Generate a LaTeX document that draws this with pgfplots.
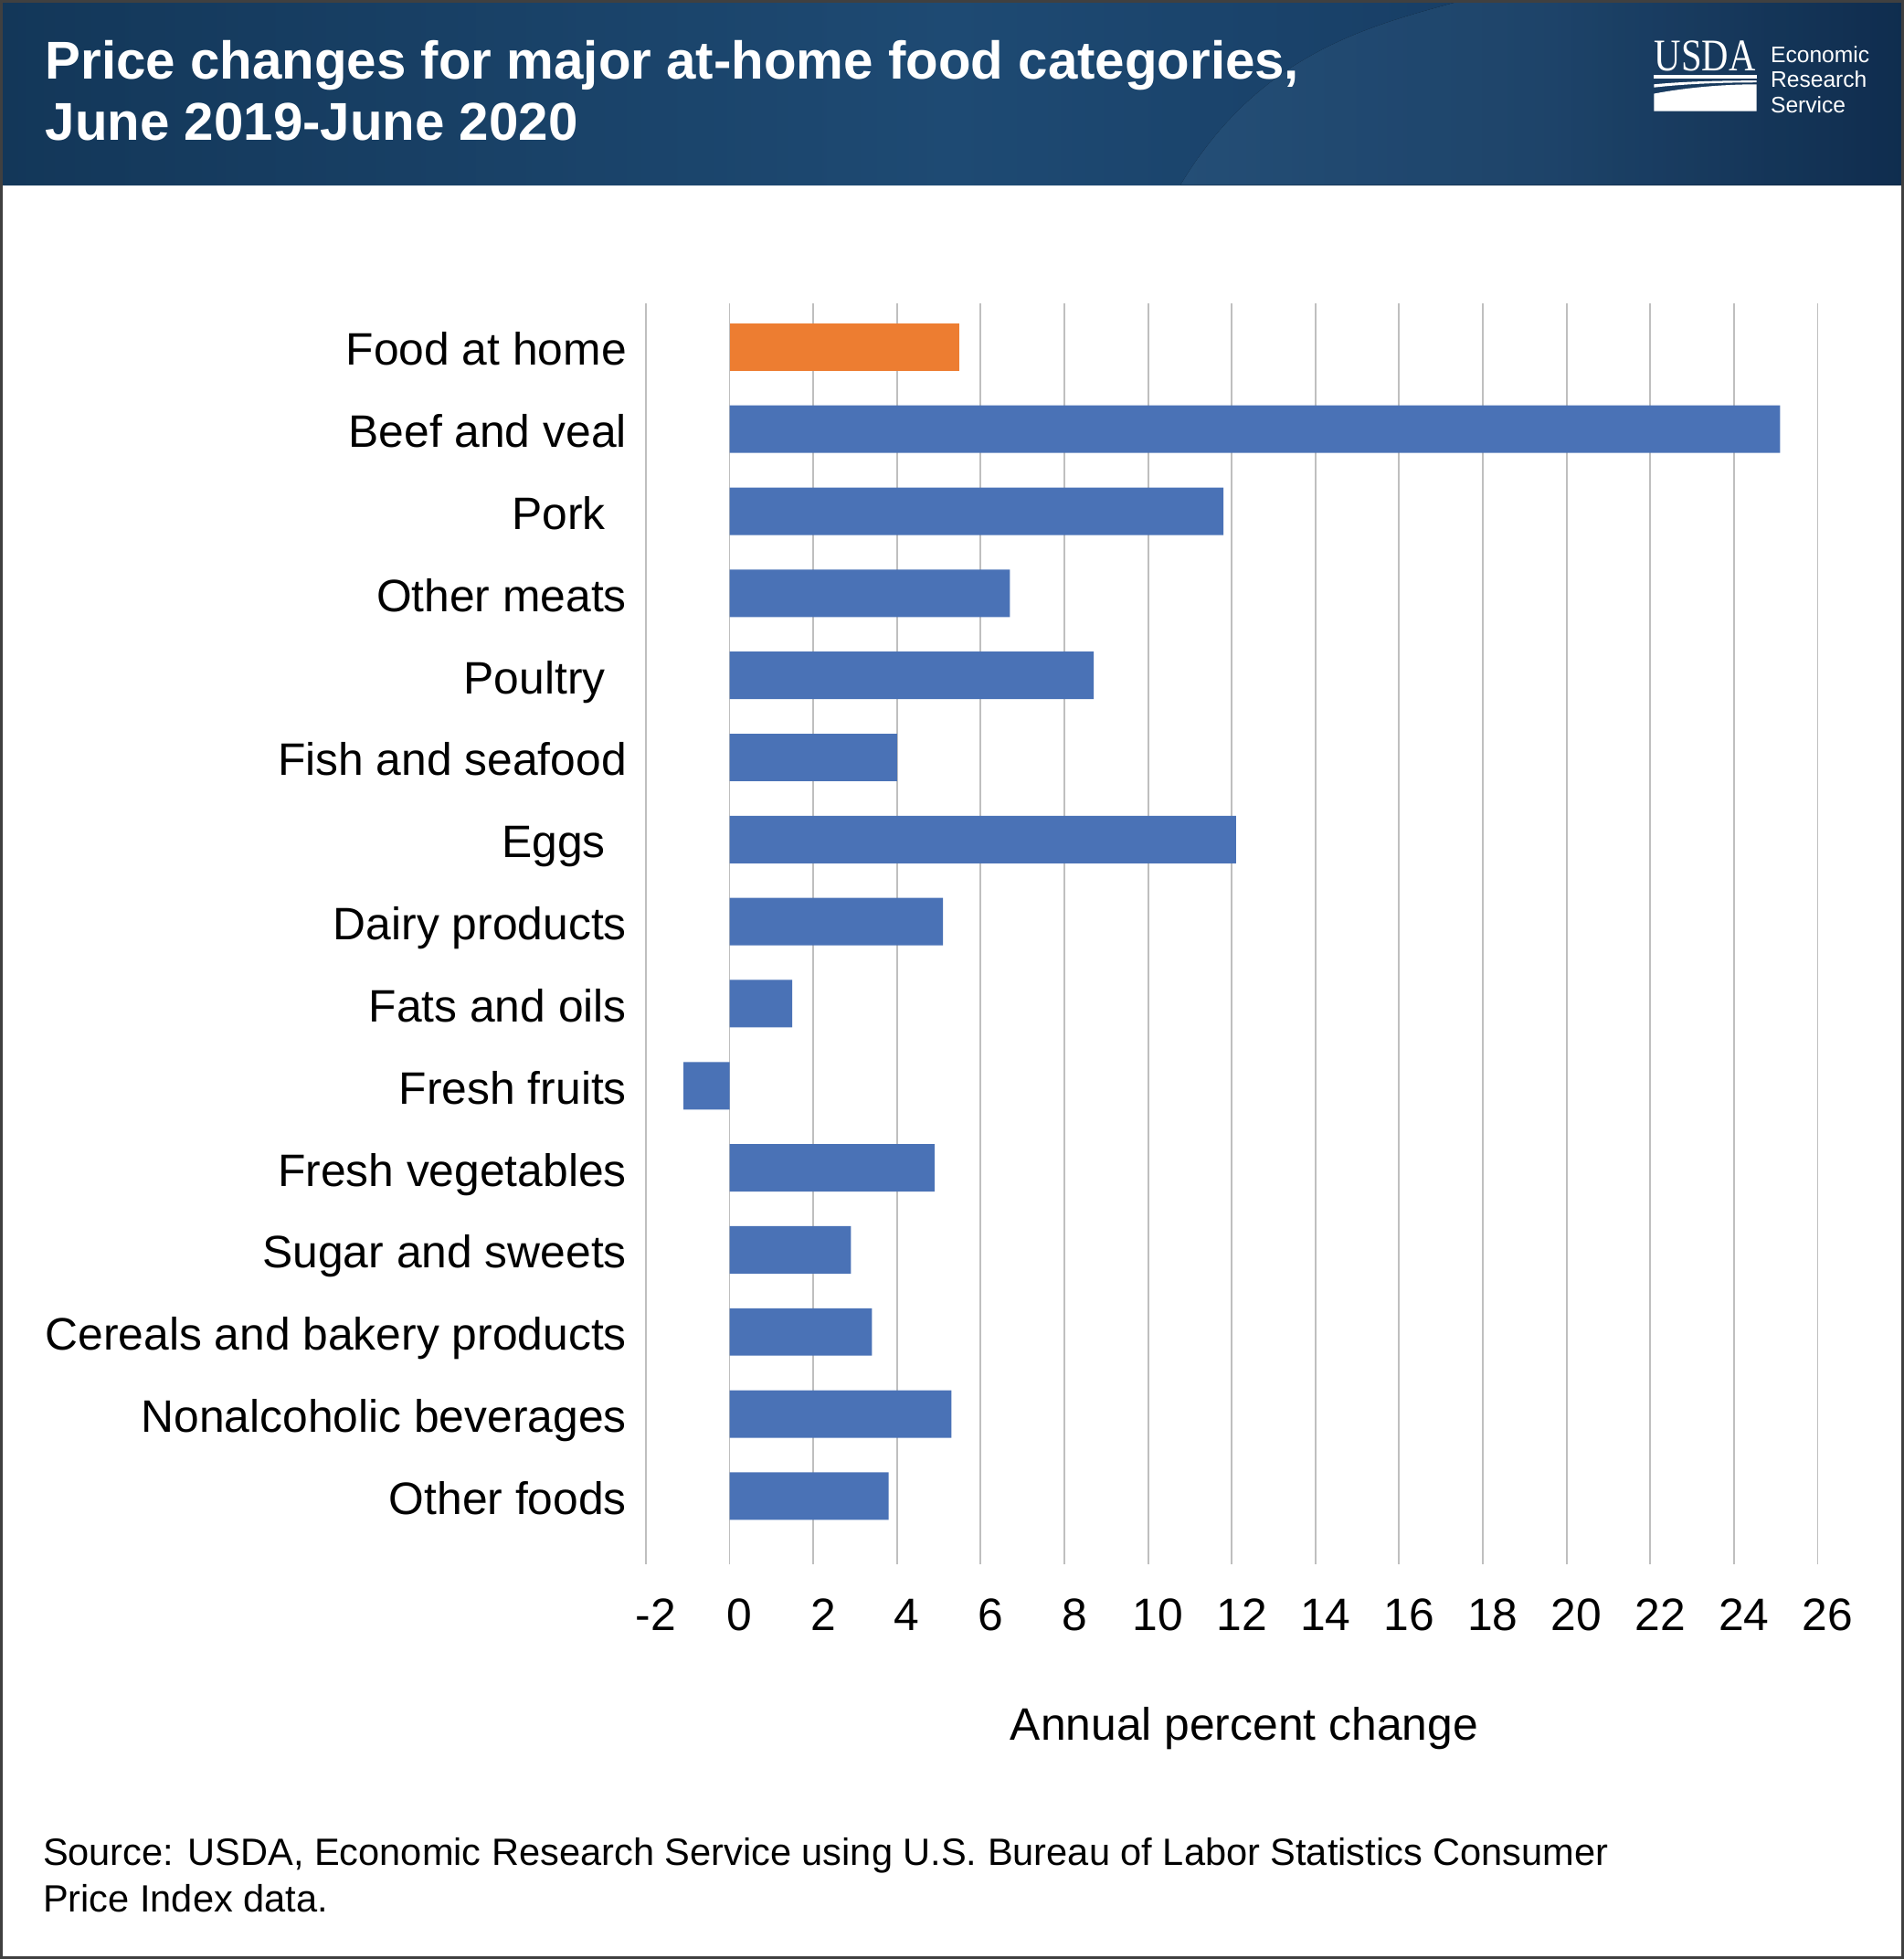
\documentclass[border=0pt]{standalone}
\usepackage{graphicx}
\usepackage{fontspec}
\setmainfont{Liberation Sans}
\newfontfamily\serifusda{Liberation Serif}
\usepackage{pgfplots}
\pgfplotsset{compat=1.18}
\definecolor{barblue}{HTML}{4A72B6}
\definecolor{barorange}{HTML}{ED7D31}
\definecolor{hdrA}{HTML}{133759}
\definecolor{hdrB}{HTML}{1E4A73}
\definecolor{hdrC}{HTML}{12345A}
\definecolor{swoosh}{HTML}{2A5A88}
\definecolor{gridc}{HTML}{BFBFBF}
\begin{document}
\begin{tikzpicture}
% ---------- decorations in display-pixel units (0.5pt each, y downward)
\begin{scope}[x=0.5pt,y=-0.5pt]
  \fill[white] (0,0) rectangle (1524,1568);
  \fill[left color=hdrA, right color=hdrC, middle color=hdrB] (0,0) rectangle (1524,148);
  \fill[left color=swoosh, right color=hdrC, middle color=swoosh!70!hdrC, opacity=0.85]
       (945,148) .. controls (1010,40) and (1100,20) .. (1172,0)
       -- (1524,0) -- (1524,148) -- cycle;
  \draw[black!75, line width=1pt] (1,1) rectangle (1523,1567);
  % title
  \node[anchor=base west, inner sep=0pt, text=white, font=\bfseries\fontsize{21.3}{25}\selectfont]
     at (36,63) {Price changes for major at-home food categories,};
  \node[anchor=base west, inner sep=0pt, text=white, font=\bfseries\fontsize{21.3}{25}\selectfont]
     at (36,112) {June 2019-June 2020};
  % logo
  \node[anchor=base west, inner sep=0pt, text=white] at (1324,57)
     {\resizebox{40.5pt}{12pt}{\serifusda USDA}};
  \fill[white] (1324,60) rectangle (1406,63);
  \fill[white] (1324,67.5) .. controls (1350,65) and (1380,64.5) .. (1406,64.5)
       -- (1406,66) .. controls (1380,66) and (1350,67) .. (1324,70) -- cycle;
  \fill[white] (1324,89) -- (1324,75) .. controls (1350,70) and (1380,67.5) .. (1406,67.5)
       -- (1406,89) -- cycle;
  \foreach \t/\yy in {Economic/50,Research/70,Service/90}
    \node[anchor=base west, inner sep=0pt, text=white, font=\fontsize{9}{10}\selectfont] at (1417,\yy) {\t};
  % x axis title
  \node[anchor=base, inner sep=0pt, font=\fontsize{18.2}{22}\selectfont] at (996,1393) {Annual percent change};
  % source
  \node[anchor=base west, inner sep=0pt, font=\fontsize{15.2}{18.5}\selectfont] at (34,1493)
     {Source: USDA, Economic Research Service using U.S. Bureau of Labor Statistics Consumer};
  \node[anchor=base west, inner sep=0pt, font=\fontsize{15.2}{18.5}\selectfont] at (34,1530)
     {Price Index data.};
\end{scope}

\begin{axis}[
  at={(258.5pt,-626pt)}, anchor=south west,
  scale only axis, width=469pt, height=504.5pt,
  xmin=-2, xmax=26, ymin=-0.53, ymax=14.83, y dir=reverse,
  axis line style={draw=none}, tick style={draw=none},
  xtick={-2,0,...,26},
  xticklabels={-2,0,2,4,6,8,10,12,14,16,18,20,22,24,26},
  xmajorgrids, major grid style={color=gridc, line width=0.7pt},
  extra x ticks={0}, extra x tick labels={},
  extra x tick style={grid style={color=black!70, line width=1pt}},
  xticklabel style={font=\fontsize{18.2}{22}\selectfont, anchor=base, yshift=-26.5pt, xshift=4pt},
  ytick={0,...,14},
  yticklabels={Food at home, Beef and veal, Pork\hspace*{8.5pt}, Other meats, Poultry\hspace*{8.5pt},
    Fish and seafood, Eggs\hspace*{8.5pt}, Dairy products, Fats and oils, Fresh fruits,
    Fresh vegetables, Sugar and sweets, Cereals and bakery products, Nonalcoholic beverages, Other foods},
  yticklabel style={font=\fontsize{18.2}{22}\selectfont, anchor=base east, inner sep=0pt, xshift=-7.5pt, yshift=-7.3pt},
]
\addplot[xbar, bar width=19pt, fill=barorange, draw=none] coordinates {(5.5,0)};
\addplot[xbar, bar width=19pt, fill=barblue, draw=none] coordinates {
  (25.1,1) (11.8,2) (6.7,3) (8.7,4) (4.0,5) (12.1,6) (5.1,7) (1.5,8) (-1.1,9)
  (4.9,10) (2.9,11) (3.4,12) (5.3,13) (3.8,14)};
\end{axis}
\begin{scope}[x=0.5pt,y=-0.5pt]
  \pgfresetboundingbox
  \path (0,0) rectangle (1524,1568);
\end{scope}
\end{tikzpicture}
\end{document}
